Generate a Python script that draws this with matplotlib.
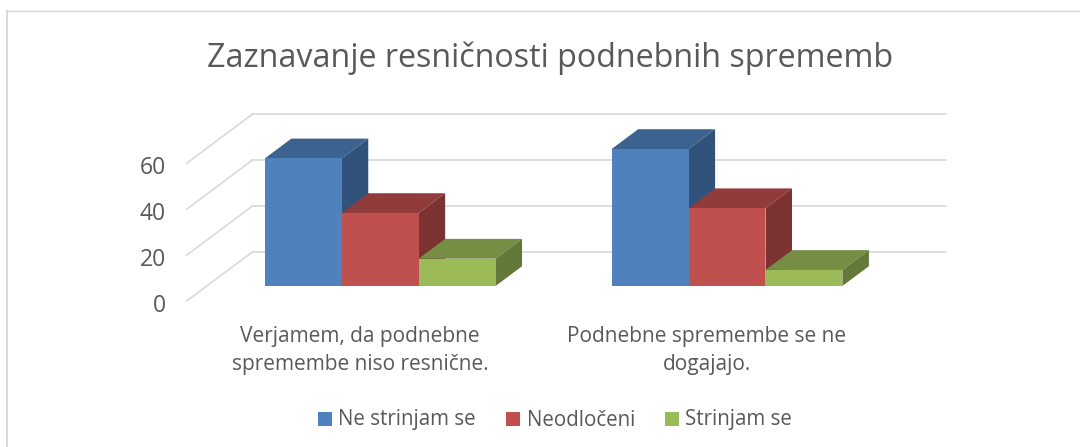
import matplotlib
matplotlib.use("Agg")
import matplotlib.pyplot as plt
from matplotlib.patches import Polygon, Rectangle
from matplotlib.lines import Line2D
from matplotlib.transforms import ScaledTranslation

# data
categories = ["Verjamem, da podnebne\nspremembe niso resnične.",
              "Podnebne spremembe se ne\ndogajajo."]
series_names = ["Ne strinjam se", "Neodločeni", "Strinjam se"]
ne_strinjam = [55.6, 59.7]
neodloceni = [31.8, 33.9]
strinjam = [11.9, 7.0]
y_ticks = [0, 20, 40, 60]

front_colors = ["#4f81bd", "#c0504d", "#9bbb59"]
top_colors = ["#3c628f", "#903c3a", "#758e43"]
side_colors = ["#31527a", "#7c3230", "#637939"]

W, H = 1080, 447
plt.rcParams['font.family'] = ['Open Sans', 'DejaVu Sans']
TEXT = "#595959"
GRID = "#d9d9d9"

fig = plt.figure(figsize=(W / 100, H / 100), dpi=100)

# axes = front plane of the 3D box
left, right, bottom, top = 186.7, 880.4, 301.0, 163.3
ax = fig.add_axes([left / W, 1 - bottom / H, (right - left) / W, (bottom - top) / H])
ax.set_xlim(0, 2)
ax.set_ylim(0, 60)
ax.patch.set_visible(False)
for s in ax.spines.values():
    s.set_visible(False)

# depth of the box in data units
depth_x = 65.6 / (right - left) * 2
depth_y = 49.0 / (bottom - top) * 60

# gridlines: wall + floor edge
for t in y_ticks:
    ax.plot([0, depth_x], [t, t + depth_y], color=GRID, lw=1.2, clip_on=False, zorder=1)
    ax.plot([depth_x, 2 + depth_x], [t + depth_y, t + depth_y], color=GRID, lw=1.2,
            clip_on=False, zorder=1)

# bars sit between these depth fractions
d0, d1 = 0.306, 0.71
bar_w = 76.9 / (right - left) * 2
for i, vals in enumerate([ne_strinjam, neodloceni, strinjam]):
    for c, v in enumerate(vals):
        x0 = c + 0.5 + (i - 1.5) * bar_w + d0 * depth_x
        x1 = x0 + bar_w
        y0 = d0 * depth_y
        ddx = (d1 - d0) * depth_x
        ddy = (d1 - d0) * depth_y
        z = 3 + i
        ax.bar(x0, v, bar_w, bottom=y0, align="edge", color=front_colors[i],
               clip_on=False, zorder=z + 0.2)
        ax.add_patch(Polygon([(x0, y0 + v), (x1, y0 + v), (x1 + ddx, y0 + v + ddy), (x0 + ddx, y0 + v + ddy)],
                             closed=True, fc=top_colors[i], ec="none", clip_on=False, zorder=z))
        ax.add_patch(Polygon([(x1, y0), (x1, y0 + v), (x1 + ddx, y0 + v + ddy), (x1 + ddx, y0 + ddy)],
                             closed=True, fc=side_colors[i], ec="none", clip_on=False, zorder=z))

ax.set_yticks(y_ticks)
ax.set_xticks([0.5, 1.5])
ax.set_xticklabels(categories, fontsize=15, color=TEXT, linespacing=1.44)
ax.tick_params(axis="both", length=0)
ax.tick_params(axis="x", pad=18)
ax.tick_params(axis="y", labelsize=16.5, labelcolor=TEXT, pad=15)

# tick labels sit a bit lower than the gridline ends
for lab in ax.get_yticklabels():
    lab.set_transform(lab.get_transform() + ScaledTranslation(0, -2 / 100, fig.dpi_scale_trans))

# chart title
fig.text(550 / W, 1 - 58 / H, "Zaznavanje resničnosti podnebnih sprememb",
         ha="center", va="center", fontsize=23.2, color=TEXT)

# legend, placed by hand to get the same gaps
legend_sq = [318, 506, 665]
legend_tx = [338, 527, 685]
for name, col, sx, tx in zip(series_names, front_colors, legend_sq, legend_tx):
    fig.add_artist(Rectangle((sx / W, 1 - 426 / H), 14 / W, 14 / H, transform=fig.transFigure,
                             fc=col, ec="none"))
    fig.text(tx / W, 1 - 425.5 / H, name, ha="left", va="baseline", fontsize=14.8, color=TEXT)

# chart frame, only top and left edges show
fig.add_artist(Line2D([7 / W, 7 / W], [0, 1 - 10.5 / H], transform=fig.transFigure, color=GRID, lw=1.4))
fig.add_artist(Line2D([7 / W, 1], [1 - 10.5 / H, 1 - 10.5 / H], transform=fig.transFigure, color=GRID, lw=1.0))

fig.savefig("out.png", dpi=100)
